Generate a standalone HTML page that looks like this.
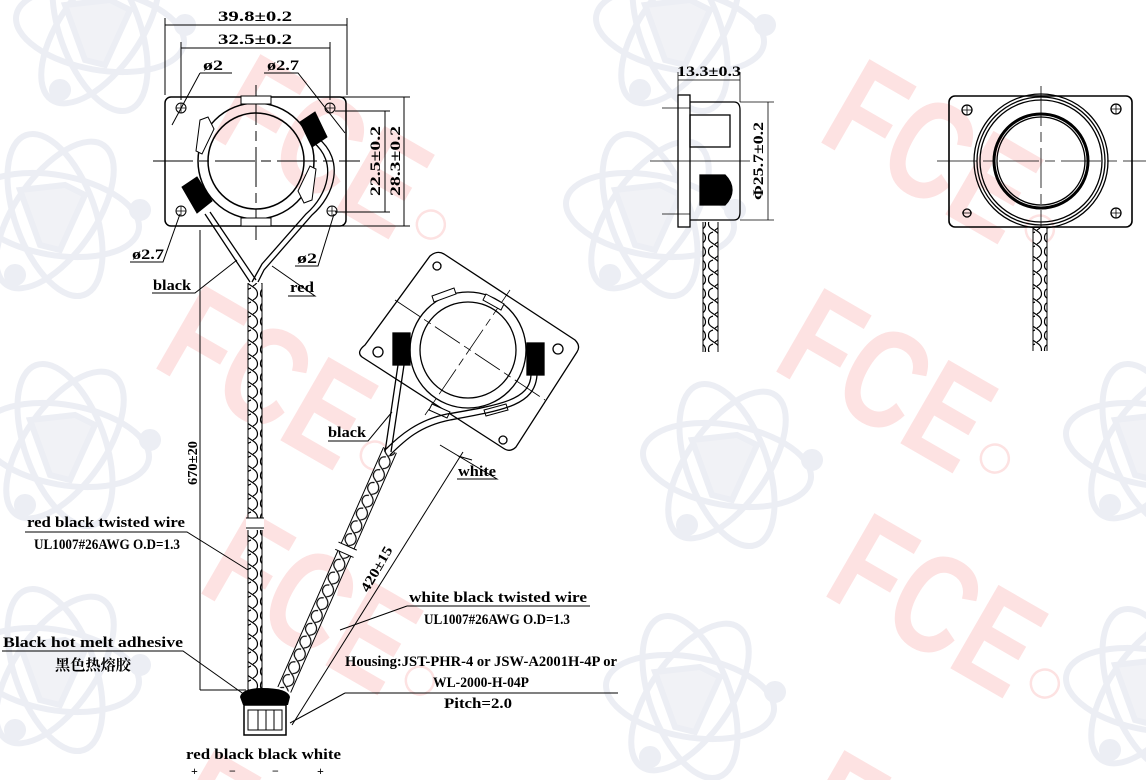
<!DOCTYPE html>
<html><head><meta charset="utf-8"><style>
html,body{margin:0;padding:0;background:#fff;width:1146px;height:780px;overflow:hidden;}
svg{display:block;overflow:hidden;}
text{font-family:"Liberation Serif","Noto Serif CJK SC",serif;font-weight:bold;fill:#000;}
.wm{font-family:"Liberation Sans",sans-serif;font-weight:bold;fill:#fde2e2;}
.reg{fill:none;stroke:#fde2e2;stroke-width:2.5;}
</style></head><body>
<svg width="1146" height="780" viewBox="0 0 1146 780" xmlns="http://www.w3.org/2000/svg">
<defs>
<clipPath id="frame"><rect width="1146" height="780"/></clipPath>
<pattern id="tw" patternUnits="userSpaceOnUse" width="14" height="14" x="-7" y="0">
<rect width="14" height="14" fill="#fff"/>
<path d="M1.5,0 C1.5,6 12.5,6 12.5,14 M12.5,0 C12.5,3 10,5 8,6 M6,8 C3,9 1.5,10 1.5,14" fill="none" stroke="#000" stroke-width="1.2"/>
</pattern>
<g id="atom" fill="none" stroke="#eceef4" stroke-width="6">
<ellipse cx="0" cy="0" rx="85" ry="40" transform="rotate(10)"/>
<ellipse cx="0" cy="0" rx="85" ry="40" transform="rotate(70)"/>
<ellipse cx="0" cy="0" rx="85" ry="40" transform="rotate(-55)"/>
<path d="M-35,-25 L10,-30 L30,-20 L5,35 L-15,30 Z" fill="#f1f2f6" stroke="#eceef4"/>
<circle cx="85" cy="-5" r="8" fill="#eceef4"/><circle cx="-40" cy="60" r="8" fill="#eceef4"/>
</g>
<g id="fce"><text class="wm" x="0" y="0" font-size="140" textLength="215" lengthAdjust="spacingAndGlyphs">FCE</text><circle class="reg" cx="240" cy="-34" r="14"/></g>
</defs>
<g clip-path="url(#frame)">
<use href="#atom" x="100" y="30"/>
<use href="#atom" x="55" y="215"/>
<use href="#atom" x="65" y="445"/>
<use href="#atom" x="55" y="670"/>
<use href="#atom" x="680" y="30"/>
<use href="#atom" x="650" y="215"/>
<use href="#atom" x="727" y="465"/>
<use href="#atom" x="690" y="697"/>
<use href="#atom" x="1150" y="445"/>
<use href="#atom" x="1150" y="690"/>
<g transform="translate(815,139) rotate(30)"><use href="#fce"/></g>
<g transform="translate(770,368) rotate(30)"><use href="#fce"/></g>
<g transform="translate(820,593) rotate(30)"><use href="#fce"/></g>
<g transform="translate(790,830) rotate(30)"><use href="#fce"/></g>
<g transform="translate(206,134) rotate(30)"><use href="#fce"/></g>
<g transform="translate(150,365) rotate(30)"><use href="#fce"/></g>
<g transform="translate(195,590) rotate(30)"><use href="#fce"/></g>
<g transform="translate(160,830) rotate(30)"><use href="#fce"/></g>
</g>

<g fill="none" stroke="#000" stroke-width="1">
<rect x="165" y="97" width="181" height="129" rx="6" stroke-width="1.5"/>
<line x1="153" y1="161" x2="360" y2="161" stroke-dasharray="40,6,10,6"/>
<line x1="256" y1="85" x2="256" y2="240" stroke-dasharray="40,6,10,6"/>
<circle cx="256" cy="161" r="58" stroke-width="1.5"/>
<circle cx="256" cy="161" r="48" stroke-width="1.5"/>
<rect x="241" y="96" width="30" height="8" fill="#fff"/>
<rect x="241" y="218" width="30" height="8" fill="#fff"/>
<path d="M200,120 l8,-3 l6,12 l-12,25 l-6,-3 z" fill="#fff"/>
<path d="M312,200 l-8,3 l-6,-12 l12,-25 l6,3 z" fill="#fff"/>
<circle cx="181" cy="108" r="5"/><circle cx="330" cy="108" r="5"/>
<circle cx="181" cy="211" r="5"/><circle cx="332" cy="211" r="5"/>
<path d="M176,108h10M181,103v10M325,108h10M330,103v10M176,211h10M181,206v10M327,211h10M332,206v10" stroke-width="0.8"/>
<path d="M182,187 l15,-10 l15,24 l-15,12 z" fill="#000"/>
<path d="M300,122 l15,-10 l12,25 l-15,10 z" fill="#000"/>
<path d="M205,214 L250,282 M210,212 L256,280" stroke-width="1.3"/>
<path d="M318,138 C345,160 335,195 312,215 L264,270 L258,282 M313,142 C338,162 328,195 306,214 L262,264 L252,282" stroke-width="1.3"/>
<line x1="165" y1="18" x2="165" y2="95"/><line x1="347" y1="18" x2="347" y2="95"/>
<line x1="165" y1="25" x2="347" y2="25"/>
<line x1="181" y1="42" x2="181" y2="100"/><line x1="330" y1="42" x2="330" y2="100"/>
<line x1="181" y1="48" x2="330" y2="48"/>
<line x1="335" y1="97" x2="410" y2="97"/><line x1="335" y1="226" x2="410" y2="226"/>
<line x1="335" y1="111" x2="390" y2="111"/><line x1="335" y1="212" x2="390" y2="212"/>
<line x1="385" y1="111" x2="385" y2="212"/><line x1="404" y1="97" x2="404" y2="226"/>
<line x1="200" y1="230" x2="200" y2="690"/><line x1="200" y1="690" x2="246" y2="690"/>
<path d="M200,73 L232,73 M200,73 L172,125"/>
<path d="M264,73 L298,73 L345,133"/>
<path d="M130,262 L163,262 L180,214"/>
<path d="M295,266 L318,266 L334,214"/>
<path d="M152,293 L195,293 L237,260"/>
<path d="M288,296 L315,296 L272,266"/>
</g>
<rect x="248" y="283" width="14" height="407" fill="url(#tw)"/>
<path d="M248,283 v407 M262,283 v407" stroke="#000" stroke-width="1"/>
<rect x="246" y="518" width="18" height="12" fill="#fff"/>
<path d="M246,518 h18 M246,528 h18" stroke="#000"/>

<g transform="translate(390,450) rotate(23.8)">
<rect x="-7" y="0" width="14" height="262" fill="url(#tw)"/>
<path d="M-7,0 v262 M7,0 v262" stroke="#000"/>
<rect x="-9" y="105" width="18" height="8" fill="#fff"/>
<path d="M-10,105 h20 M-10,113 h20" stroke="#000"/>
</g>

<g fill="none" stroke="#000" stroke-width="1.3">
<path d="M365,345 L430,256 Q437,250 444,254 L575,340 Q581,346 577,352 L516,447 Q510,453 503,448 L362,357 Q356,352 365,345 Z" fill="#fff"/>
<line x1="395" y1="300" x2="545" y2="400" stroke-width="0.8" stroke-dasharray="30,5,8,5"/>
<line x1="510" y1="290" x2="425" y2="415" stroke-width="0.8" stroke-dasharray="30,5,8,5"/>
<circle cx="468" cy="350" r="58"/>
<circle cx="468" cy="350" r="48"/>
<path d="M432,296 l22,-8 l2,6 l-22,8 z M486,294 l18,10 l-3,6 l-18,-10 z M432,404 l18,8 l-3,6 l-18,-8z M484,410 l22,-6 l2,6 l-22,6z" fill="#fff" stroke-width="1"/>
<circle cx="437" cy="266" r="4"/><circle cx="378" cy="352" r="5"/><circle cx="558" cy="349" r="5"/><circle cx="503" cy="440" r="4"/>
<rect x="393" y="333" width="17" height="32" fill="#000"/>
<rect x="527" y="343" width="17" height="32" fill="#000"/>
<path d="M398,365 L385,452 M404,365 L391,452"/>
<path d="M537,375 C535,405 505,410 450,420 C420,426 405,440 390,455 M531,375 C530,400 500,405 447,414 C418,420 400,435 385,450"/>
<line x1="292" y1="725" x2="463" y2="452" stroke-width="1"/>
<path d="M458,456 L472,460" stroke-width="1"/>
<path d="M328,441 L368,441 L392,412" stroke-width="1"/>
<path d="M457,479 L497,479 L440,445" stroke-width="1"/>
<path d="M407,606 L590,606 M407,606 L340,630" stroke-width="1"/>
<path d="M2,651 L183,651 L245,695" stroke-width="1"/>
<path d="M25,532 L187,532 L248,570" stroke-width="1"/>
<path d="M345,693 L618,693 M345,693 L290,723" stroke-width="1"/>
</g>

<path d="M240,697 Q242,688 262,688 Q288,688 290,697 L288,705 L243,705 Z" fill="#000"/>
<rect x="244" y="705" width="42" height="30" fill="#fff" stroke="#000" stroke-width="1.5"/>
<path d="M248,710 h34 v20 h-34 z M258,710 v20 M266,710 v20 M274,710 v20" fill="none" stroke="#000"/>

<g fill="none" stroke="#000" stroke-width="1.3">
<rect x="678" y="95" width="12" height="132" fill="#fff"/>
<path d="M690,102 H734 Q740,102 740,110 V212 Q740,220 734,220 H690"/>
<rect x="690" y="115" width="40" height="32"/>
<path d="M700,175 H725 Q732,182 732,190 Q732,198 725,205 H700 Z" fill="#000"/>
<line x1="650" y1="161" x2="750" y2="161" stroke-width="0.8"/>
<line x1="662" y1="108" x2="690" y2="108" stroke-width="0.8"/><line x1="662" y1="214" x2="690" y2="214" stroke-width="0.8"/>
<line x1="678" y1="72" x2="678" y2="95" stroke-width="0.8"/><line x1="740" y1="72" x2="740" y2="102" stroke-width="0.8"/>
<line x1="678" y1="80" x2="740" y2="80" stroke-width="0.8"/>
<line x1="740" y1="102" x2="774" y2="102" stroke-width="0.8"/><line x1="740" y1="220" x2="774" y2="220" stroke-width="0.8"/>
<line x1="768" y1="102" x2="768" y2="220" stroke-width="0.8"/>
</g>
<rect x="703" y="222" width="15" height="130" fill="url(#tw)"/>
<path d="M703,222 v130 M718,222 v130" stroke="#000"/>

<g fill="none" stroke="#000" stroke-width="1.3">
<rect x="949" y="96" width="183" height="131" rx="6" stroke-width="1.6"/>
<line x1="937" y1="161" x2="1146" y2="161" stroke-width="0.8" stroke-dasharray="40,6,10,6"/>
<line x1="1041" y1="86" x2="1041" y2="240" stroke-width="0.8" stroke-dasharray="40,6,10,6"/>
<circle cx="1041" cy="161" r="67"/><circle cx="1041" cy="161" r="64"/><circle cx="1041" cy="161" r="61"/>
<circle cx="1041" cy="161" r="47" stroke-width="3"/><circle cx="1041" cy="161" r="44"/>
<circle cx="967" cy="110" r="5"/><circle cx="1116" cy="109" r="5"/><circle cx="967" cy="213" r="4"/><circle cx="1116" cy="213" r="5"/>
<path d="M962,110h10M967,105v10M1111,109h10M1116,104v10M962,213h10M1111,213h10M1116,208v10" stroke-width="0.8"/>
</g>
<rect x="1033" y="228" width="14" height="123" fill="url(#tw)"/>
<path d="M1033,228 v123 M1047,228 v123" stroke="#000"/>

<text x="218" y="21" font-size="15" textLength="74" lengthAdjust="spacingAndGlyphs">39.8±0.2</text>
<text x="218" y="44" font-size="15" textLength="74" lengthAdjust="spacingAndGlyphs">32.5±0.2</text>
<text x="203" y="70" font-size="15" textLength="20" lengthAdjust="spacingAndGlyphs">ø2</text>
<text x="267" y="70" font-size="15" textLength="32" lengthAdjust="spacingAndGlyphs">ø2.7</text>
<text x="132" y="259" font-size="15" textLength="32" lengthAdjust="spacingAndGlyphs">ø2.7</text>
<text x="297" y="263" font-size="15" textLength="20" lengthAdjust="spacingAndGlyphs">ø2</text>
<text x="153" y="290" font-size="15" textLength="38" lengthAdjust="spacingAndGlyphs">black</text>
<text x="290" y="292" font-size="15" textLength="24" lengthAdjust="spacingAndGlyphs">red</text>
<text transform="translate(380,196) rotate(-90)" font-size="15" textLength="70" lengthAdjust="spacingAndGlyphs">22.5±0.2</text>
<text transform="translate(400,196) rotate(-90)" font-size="15" textLength="70" lengthAdjust="spacingAndGlyphs">28.3±0.2</text>
<text transform="translate(197,485) rotate(-90)" font-size="14" textLength="44" lengthAdjust="spacingAndGlyphs">670±20</text>
<text x="328" y="437" font-size="15" textLength="38" lengthAdjust="spacingAndGlyphs">black</text>
<text x="458" y="476" font-size="15" textLength="38" lengthAdjust="spacingAndGlyphs">white</text>
<text transform="translate(368,593) rotate(-60)" font-size="14" textLength="50" lengthAdjust="spacingAndGlyphs">420±15</text>
<text x="27" y="527" font-size="15" textLength="158" lengthAdjust="spacingAndGlyphs">red black twisted wire</text>
<text x="34" y="549" font-size="15" textLength="146" lengthAdjust="spacingAndGlyphs">UL1007#26AWG O.D=1.3</text>
<text x="409" y="602" font-size="15" textLength="178" lengthAdjust="spacingAndGlyphs">white black twisted wire</text>
<text x="424" y="624" font-size="15" textLength="146" lengthAdjust="spacingAndGlyphs">UL1007#26AWG O.D=1.3</text>
<text x="3" y="647" font-size="15" textLength="180" lengthAdjust="spacingAndGlyphs">Black hot melt adhesive</text>
<text x="55" y="670" font-size="15" textLength="76" lengthAdjust="spacingAndGlyphs">黑色热熔胶</text>
<text x="345" y="666" font-size="15" textLength="272" lengthAdjust="spacingAndGlyphs">Housing:JST-PHR-4 or JSW-A2001H-4P or</text>
<text x="433" y="687" font-size="15" textLength="96" lengthAdjust="spacingAndGlyphs">WL-2000-H-04P</text>
<text x="444" y="708" font-size="15" textLength="68" lengthAdjust="spacingAndGlyphs">Pitch=2.0</text>
<text x="186" y="759" font-size="15" textLength="155" lengthAdjust="spacingAndGlyphs">red black black white</text>
<text x="191" y="775" font-size="12">+</text><text x="229" y="775" font-size="12">−</text><text x="272" y="775" font-size="12">−</text><text x="317" y="775" font-size="12">+</text>
<text x="677" y="76" font-size="15" textLength="64" lengthAdjust="spacingAndGlyphs">13.3±0.3</text>
<text transform="translate(763,200) rotate(-90)" font-size="15" textLength="78" lengthAdjust="spacingAndGlyphs">Φ25.7±0.2</text>
</svg>
</body></html>
